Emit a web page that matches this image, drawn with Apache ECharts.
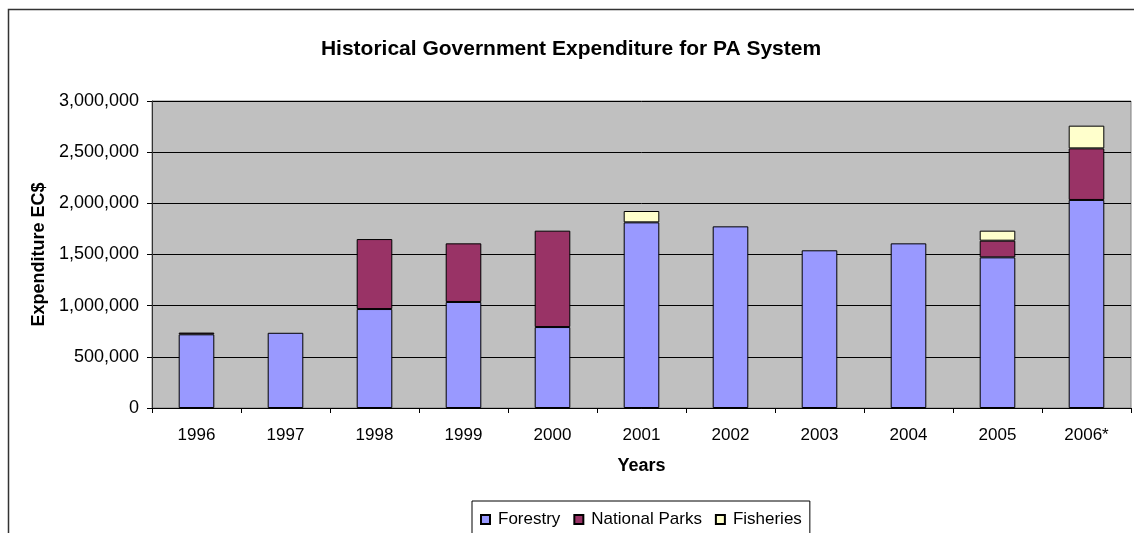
<!DOCTYPE html>
<html>
<head>
<meta charset="utf-8">
<script src="https://cdn.jsdelivr.net/npm/echarts@6/dist/echarts.min.js"></script>
<style>html,body{margin:0;padding:0;background:#fff;}#c{width:1134px;height:533px;}</style>
</head>
<body>
<div id="c"></div>
<script>
var categories = ['1996','1997','1998','1999','2000','2001','2002','2003','2004','2005','2006*'];
var forestry = [720000, 735000, 967000, 1036000, 791000, 1814000, 1775000, 1541000, 1609000, 1472000, 2033000];
var nationalParks = [17000, 0, 684000, 573000, 942000, 0, 0, 0, 0, 163000, 504000];
var fisheries = [0, 0, 0, 0, 0, 111000, 0, 0, 0, 98000, 222000];
var yTicks = [0, 500000, 1000000, 1500000, 2000000, 2500000, 3000000];

var font = 'Liberation Sans, Arial, sans-serif';
var chart = echarts.init(document.getElementById('c'), null, {renderer: 'canvas'});
function fmt(v){ return String(v).replace(/\B(?=(\d{3})+(?!\d))/g, ','); }
function series(name, data, color){
  return {
    name: name, type: 'bar', stack: 'total',
    data: data.map(function(v){ return v === 0 ? '-' : v; }),
    barCategoryGap: '60%',
    itemStyle: {color: color, borderColor: '#000', borderWidth: 1},
    emphasis: {disabled: true}
  };
}
chart.setOption({
  animation: false,
  textStyle: {fontFamily: font},
  title: {
    text: 'Historical Government Expenditure for PA System',
    left: 566, top: 34, textAlign: 'center',
    textStyle: {fontSize: 21, fontWeight: 'bold', color: '#000', fontFamily: font}
  },
  graphic: [{
    type: 'rect', silent: true, z: -1,
    shape: {x: 8.5, y: 9.5, width: 1200, height: 600},
    style: {fill: 'none', stroke: '#333', lineWidth: 1.5}
  }],
  legend: {
    left: 472, top: 501,
    padding: [10, 8, 10, 8],
    itemGap: 13,
    itemWidth: 9, itemHeight: 9, icon: 'rect',
    borderColor: '#000', borderWidth: 1,
    textStyle: {fontSize: 17, color: '#000', fontFamily: font, padding: [0,0,0,3]},
    data: ['Forestry', 'National Parks', 'Fisheries']
  },
  grid: {
    left: 152, right: 3, top: 101, bottom: 125,
    show: true, backgroundColor: '#C0C0C0', borderColor: '#808080', borderWidth: 1
  },
  xAxis: {
    type: 'category', data: categories,
    name: 'Years', nameLocation: 'middle', nameGap: 49,
    nameTextStyle: {fontSize: 18, fontWeight: 'bold', color: '#000', fontFamily: font},
    axisLine: {lineStyle: {color: '#000', width: 1}},
    axisTick: {show: true, length: 5, inside: false, lineStyle: {color: '#000'}},
    axisLabel: {fontSize: 17, color: '#000', margin: 19, fontFamily: font}
  },
  yAxis: {
    type: 'value', min: yTicks[0], max: yTicks[yTicks.length-1], interval: 500000,
    name: 'Expenditure EC$', nameLocation: 'middle', nameGap: 104, nameRotate: 90,
    nameTextStyle: {fontSize: 18, fontWeight: 'bold', color: '#000', fontFamily: font},
    axisLine: {show: true, lineStyle: {color: '#333', width: 1}},
    axisTick: {show: true, length: 5, lineStyle: {color: '#000'}},
    axisLabel: {fontSize: 18, color: '#000', margin: 13, formatter: function(v){ return fmt(v); }, fontFamily: font},
    splitLine: {show: true, lineStyle: {color: '#000', width: 1}}
  },
  series: [
    series('Forestry', forestry, '#9999FF'),
    series('National Parks', nationalParks, '#993366'),
    series('Fisheries', fisheries, '#FFFFCC')
  ]
});
</script>
</body>
</html>
